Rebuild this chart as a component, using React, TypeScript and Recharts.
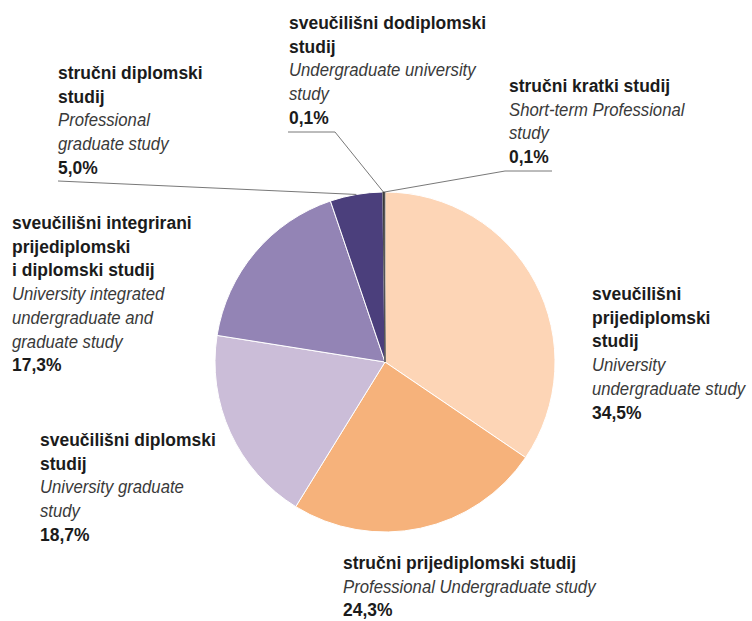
import { PieChart, Pie, Cell } from 'recharts'

// study programmes, clockwise from 12 o'clock
const names = [
  'sveučilišni prijediplomski studij',
  'stručni prijediplomski studij',
  'sveučilišni diplomski studij',
  'sveučilišni integrirani prijediplomski i diplomski studij',
  'stručni diplomski studij',
  'sveučilišni dodiplomski studij',
  'stručni kratki studij',
]
const shares = [34.5, 24.3, 18.7, 17.3, 5.0, 0.1, 0.1]
const valueLabels = ['34,5%', '24,3%', '18,7%', '17,3%', '5,0%', '0,1%', '0,1%']

// label text, split the way the original breaks lines
const boldLines = [
  ['sveučilišni', 'prijediplomski', 'studij'],
  ['stručni prijediplomski studij'],
  ['sveučilišni diplomski', 'studij'],
  ['sveučilišni integrirani', 'prijediplomski', 'i diplomski studij'],
  ['stručni diplomski', 'studij'],
  ['sveučilišni dodiplomski', 'studij'],
  ['stručni kratki studij'],
]
const italicLines = [
  ['University', 'undergraduate study'],
  ['Professional Undergraduate study'],
  ['University graduate', 'study'],
  ['University integrated', 'undergraduate and', 'graduate study'],
  ['Professional', 'graduate study'],
  ['Undergraduate university', 'study'],
  ['Short-term Professional', 'study'],
]

const data = names.map((name, i) => ({ name, value: shares[i] }))

const COLORS = ['#FDD5B6', '#F6B27B', '#CBBDD8', '#9384B5', '#4B3F7C', '#2E2E2E', '#555555']
const FONT = '"Liberation Sans", Arial, sans-serif'
const LINE_H = 23.7
const RAD = Math.PI / 180
// the original uses a condensed face; squeeze a regular one horizontally
const SQUEEZE_BOLD = 0.92
const SQUEEZE_IT = 0.88

// left x / first baseline of each label block
const labelPos = [
  [592, 300], [343, 569], [40, 446], [12, 229], [58, 79], [289, 29], [509, 92],
]

const renderLabel = (p: any) => {
  const { index, cx, cy, midAngle, outerRadius } = p
  const [x, y0] = labelPos[index]
  const lines = [
    ...boldLines[index].map((t) => ({ t, it: false })),
    ...italicLines[index].map((t) => ({ t, it: true })),
    { t: valueLabels[index], it: false },
  ]
  const ax = cx + outerRadius * Math.cos(-midAngle * RAD)
  const ay = cy + outerRadius * Math.sin(-midAngle * RAD)
  let leader: number[][] | null = null
  if (index === 4) leader = [[58, 181], [ax, ay]]
  if (index === 5) leader = [[288, 132], [335, 132], [ax, ay]]
  if (index === 6) leader = [[ax, ay], [505, 171], [552, 171]]
  return (
    <g key={index}>
      {leader && (
        <polyline points={leader.map((q) => q.join(',')).join(' ')} fill="none" stroke="#555" strokeWidth={0.8} />
      )}
      {lines.map((l, k) => (
        <g key={k} transform={`translate(${x},${y0 + k * LINE_H}) scale(${l.it ? SQUEEZE_IT : SQUEEZE_BOLD},1)`}>
          <text
            x={0}
            y={0}
            fontFamily={FONT}
            fontSize={19}
            fontStyle={l.it ? 'italic' : 'normal'}
            fontWeight={l.it ? 'normal' : 'bold'}
            fill={l.it ? '#3a3a3a' : '#1b1b1b'}
          >
            {l.t}
          </text>
        </g>
      ))}
    </g>
  )
}

export default function App() {
  return (
    <div style={{ position: 'absolute', left: 0, top: 0, width: 752, height: 621, background: '#fff' }}>
      <PieChart width={752} height={621} margin={{ top: 0, right: 0, bottom: 0, left: 0 }}>
        <Pie
          data={data}
          dataKey="value"
          cx={385}
          cy={362}
          outerRadius={170}
          startAngle={90}
          endAngle={-270}
          label={renderLabel}
          labelLine={false}
          isAnimationActive={false}
        >
          {data.map((d, i) => (
            <Cell key={i} fill={COLORS[i]} stroke={i >= 5 ? COLORS[i] : '#fff'} strokeWidth={i >= 5 ? 0.6 : 1} />
          ))}
        </Pie>
      </PieChart>
    </div>
  )
}
